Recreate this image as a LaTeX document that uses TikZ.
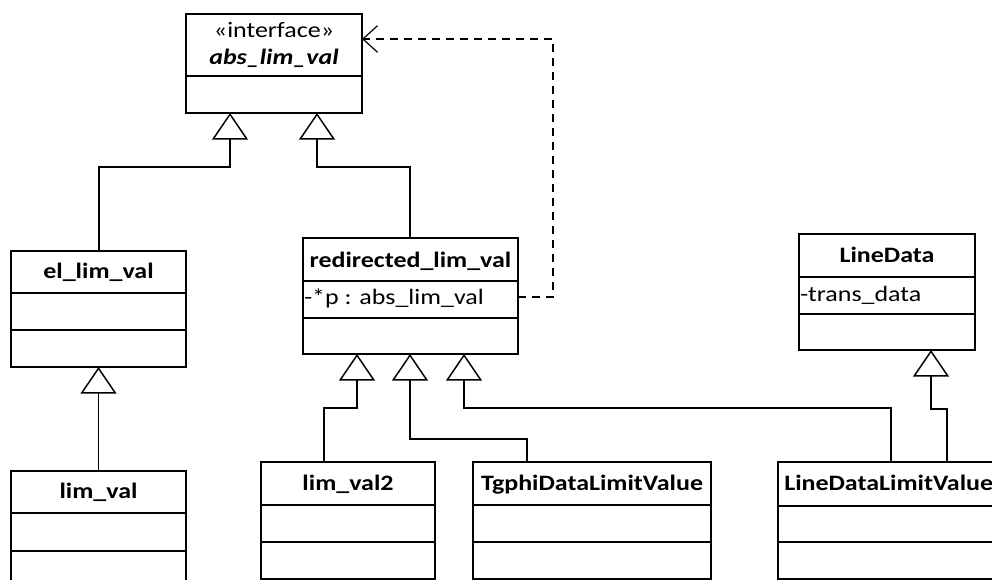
\documentclass[tikz,border=0pt]{standalone}
\usepackage{fontspec}
\setmainfont{Carlito}[FakeStretch=1.18]
\usetikzlibrary{arrows.meta}

% one drawing unit is one pixel of the layout grid; y runs upwards from the bottom edge
\newcommand\pxunit{0.75pt}
\newcommand\labelsize{\fontsize{16.5}{19}\selectfont}

\tikzset{
  boxframe/.style={draw=black, line width=1.5pt, fill=white, inner sep=0pt, outer sep=0pt,
    anchor=north west},
  compline/.style={draw=black, line width=1.5pt},
  classname/.style={font=\bfseries\labelsize, inner sep=0pt, anchor=base},
  attrtext/.style={font=\labelsize, inner sep=0pt, anchor=base west},
  inherit/.style={draw=black, line width=0.8pt,
    -{Triangle[width=27pt, length=20pt, line width=1.1pt, fill=white]}},
  depend/.style={draw=black, line width=0.8pt, dash pattern=on 6pt off 4.5pt,
    -{Straight Barb[length=11pt, width=20pt, line width=0.9pt]}},
}

% class frame with two divider lines: name, left, top, right, bottom, divider 1, divider 2
\newcommand\classframe[7]{%
  \node[boxframe, minimum width={(#4-#2)*\pxunit}, minimum height={(#5-#3)*\pxunit}]
    (#1) at (#2,580-#3) {};
  \draw[compline] (#2,580-#6) -- (#4,580-#6);
  \draw[compline] (#2,580-#7) -- (#4,580-#7);
}

\begin{document}
\begin{tikzpicture}[x=0.75pt, y=0.75pt]
  \path[use as bounding box] (0,0) rectangle (992,580);
  \clip (0,0) rectangle (992,580);

  % interface
  \node[boxframe, minimum width={176*\pxunit}, minimum height={99*\pxunit}] (abs) at (186,580-14) {};
  \draw[compline] (186,580-76) -- (362,580-76);
  \node[inner sep=0pt, anchor=base, font=\labelsize] (absstereo) at (274,580-38) {«interface»};
  \node[inner sep=0pt, anchor=base, font=\bfseries\itshape\labelsize] (abstitle) at (274,580-65) {abs\_lim\_val};

  % classes
  \classframe{elval}{11}{251}{186}{367}{293}{330}
  \node[classname] (elvaltitle) at (98.5,580-279) {el\_lim\_val};

  \classframe{limval}{11}{471}{186}{600}{513}{551}
  \node[classname] (limvaltitle) at (98.5,580-499) {lim\_val};

  \classframe{redir}{303}{238}{518}{354}{281}{318}
  \node[classname] (redirtitle) at (410.5,580-268) {redirected\_lim\_val};
  \node[attrtext] (redirattr) at (304,580-305) {-*p : abs\_lim\_val};

  \classframe{linedata}{799}{234}{975}{350}{277}{314}
  \node[classname] (linedatatitle) at (887,580-263) {LineData};
  \node[attrtext] (linedataattr) at (800,580-302) {-trans\_data};

  \classframe{limvaltwo}{261}{462}{435}{579}{505}{542}
  \node[classname] (limvaltwotitle) at (348,580-491) {lim\_val2};

  \classframe{tgphi}{473}{462}{711}{579}{505}{542}
  \node[classname] (tgphititle) at (592,580-491) {TgphiDataLimitValue};

  \classframe{ldlv}{778}{462}{1010}{579}{506}{542}
  \node[classname, anchor=base west] (ldlvtitle) at (784,580-491) {LineDataLimitValue};

  % generalizations
  \draw[inherit] (elval.north -| 99,0) |- (230,580-167) -- (230,0 |- abs.south);
  \draw[inherit] (redir.north -| 410,0) |- (317,580-167) -- (317,0 |- abs.south);
  \draw[inherit] (limval.north) -- (elval.south);
  \draw[inherit] (limvaltwo.north -| 324,0) |- (357,580-408) -- (357,0 |- redir.south);
  \draw[inherit] (tgphi.north -| 527,0) |- (410,580-439) -- (410,0 |- redir.south);
  \draw[inherit] (ldlv.north -| 891,0) |- (464,580-408) -- (464,0 |- redir.south);
  \draw[inherit] (ldlv.north -| 947,0) |- (931,580-409) -- (931,0 |- linedata.south);

  % dependency on the interface
  \draw[depend] (redir.east |- 0,580-297) -| (553,580-39) -- (abs.east |- 0,580-39);
\end{tikzpicture}
\end{document}
